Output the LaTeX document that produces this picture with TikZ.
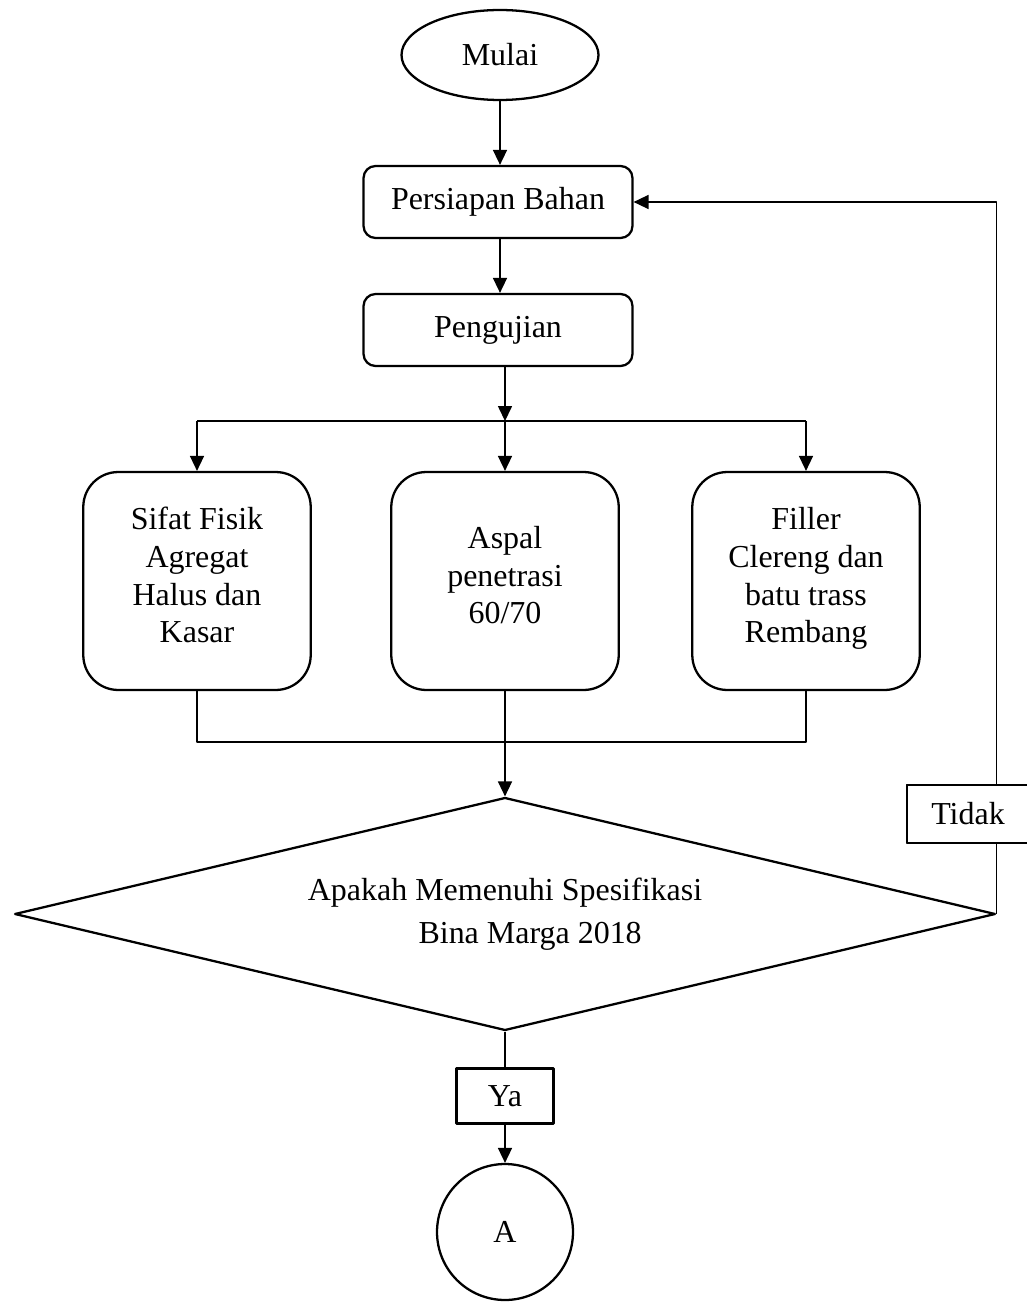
\documentclass[tikz,border=0pt]{standalone}
\usepackage{fontspec}
\setmainfont{Liberation Serif}
\usetikzlibrary{shapes.geometric,arrows.meta}
\begin{document}
\begin{tikzpicture}[x=0.02cm,y=-0.02cm,line join=round,
	font=\fontsize{18.2}{21.5}\selectfont,
	box/.style={draw,line width=1.3pt,rounded corners=0.24cm,minimum width=5.38cm,minimum height=1.44cm},
	bigbox/.style={draw,line width=1.3pt,rounded corners=0.7cm,minimum width=4.55cm,minimum height=4.36cm,align=center,text depth=6.8pt},
	label/.style={draw,fill=white,line width=1.3pt,inner sep=0pt},
	line/.style={line width=0.7pt},
	arrow/.style={line width=0.7pt,-{Triangle[length=8.5pt,width=8pt]}}]
	\useasboundingbox (0,0) rectangle (1027,1311);
	\node[draw,ellipse,line width=1.3pt,minimum width=3.94cm,minimum height=1.8cm] (mulai) at (500,55) {Mulai};
	\node[box] (persiapan) at (498,202) {Persiapan Bahan};
	\node[box] (pengujian) at (498,330) {Pengujian};
	\coordinate (split) at (505,421);
	\node[bigbox] (sifat) at (197,581) {Sifat Fisik\\Agregat\\Halus dan\\Kasar};
	\node[bigbox] (aspal) at (505,581) {Aspal\\penetrasi\\60/70};
	\node[bigbox] (filler) at (806,581) {Filler\\Clereng dan\\batu trass\\Rembang};
	\coordinate (join) at (505,742);
	\node[draw,diamond,aspect=4.21,line width=1.3pt,inner sep=0pt,minimum width=19.62cm,minimum height=4.66cm,align=left] (dia) at (505,914)
		{Apakah Memenuhi Spesifikasi\\[3pt]\hspace*{63pt}Bina Marga 2018};
	\node[label,minimum width=2.44cm,minimum height=1.16cm] (tidak) at (968,814) {Tidak};
	\node[label,minimum width=1.94cm,minimum height=1.1cm] (ya) at (505,1096) {Ya};
	\node[draw,circle,line width=1.3pt,minimum size=2.72cm] (a) at (505,1232) {A};
	\draw[arrow] (mulai.south) -- (mulai.south |- persiapan.north);
	\draw[arrow] (persiapan.south -| mulai.south) -- (mulai.south |- pengujian.north);
	\draw[arrow] (split |- pengujian.south) -- (split);
	\draw[line] (sifat.north |- split) -- (filler.north |- split);
	\draw[arrow] (sifat.north |- split) -- (sifat.north);
	\draw[arrow] (split) -- (aspal.north);
	\draw[arrow] (filler.north |- split) -- (filler.north);
	\draw[line] (sifat.south) -- (sifat.south |- join) -- (filler.south |- join) -- (filler.south);
	\draw[arrow] (aspal.south) -- (dia.north);
	\draw[arrow] (dia.east) |- (persiapan.east);
	\node[label,minimum width=2.44cm,minimum height=1.16cm] at (tidak) {Tidak};
	\draw[line] (dia.south) -- (ya.north);
	\draw[arrow] (ya.south) -- (a.north);
\end{tikzpicture}
\end{document}
